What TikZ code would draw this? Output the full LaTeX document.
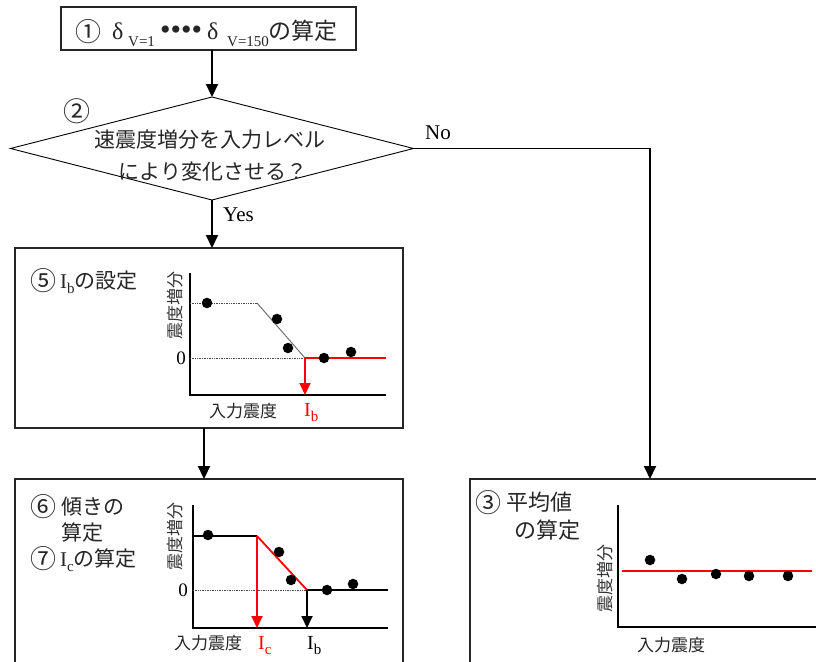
\documentclass[tikz,border=0pt]{standalone}
\usepackage{fontspec}
\setmainfont{Liberation Serif}
\newfontfamily\jp{Noto Sans CJK JP}
\usetikzlibrary{shapes.geometric,arrows.meta}
\newcommand{\fs}[1]{\fontsize{#1}{#1}\selectfont}
\newcommand{\seg}[2]{\makebox[#1pt][l]{#2}}
\newcommand{\circd}[1]{\raisebox{-2pt}{\jp\fs{26}#1}}
\begin{document}
\begin{tikzpicture}[x=1pt,y=-1pt,
  box/.style={draw=black!85,line width=1.3pt,inner sep=0pt,outer sep=0pt},
  flow/.style={line width=2.2pt,-{Triangle[length=13pt,width=12pt]}},
  flowline/.style={line width=1.8pt,-{Triangle[length=13pt,width=12pt]}},
  axis/.style={line width=1.8pt},
  dot/.style={circle,fill=black,inner sep=0pt,minimum size=10.5pt},
  zeroline/.style={densely dotted,line width=0.7pt,black!70},
  redline/.style={red,line width=1.8pt},
  gArrow/.style={line width=1.8pt,-{Triangle[length=12pt,width=11pt]}},
  ylab/.style={rotate=90,font=\jp\fs{17},text=black!80,inner sep=0pt},
  xlab/.style={font=\jp\fs{17},text=black!85,inner sep=0pt},
  lab/.style={font=\jp\fs{21},text=black!85,inner sep=0pt},
  num/.style={font=\fs{19},inner sep=0pt},
  yn/.style={font=\fs{21},inner sep=0pt}
]
\useasboundingbox (0,0) rectangle (816,661);
\clip (0,0) rectangle (816,661);
\fill[white] (0,0) rectangle (816,661);

% ---- box 1
\node[box,minimum width=295pt,minimum height=43pt] (b1) at (208.5,28.5) {};
\node[anchor=base west,inner sep=0pt,text=black!85] (t1) at (75,40) {\seg{37}{\circd{①}}\seg{16}{\fs{24}δ}\seg{32}{\raisebox{-7pt}{\fs{15}V=1}}\seg{47}{\fs{30}••••}\seg{20}{\fs{24}δ}\seg{41}{\raisebox{-7pt}{\fs{15}V=150}}{\jp\fs{23}の算定}};

% ---- decision diamond
\node[diamond,draw,line width=0.9pt,minimum width=403pt,minimum height=103pt,inner sep=0pt,outer sep=0pt,aspect=3.9] (d) at (212,148.5) {};
\node[lab,font=\jp\fs{27}] (n2) at (77,111) {②};
\node[lab,font=\jp\fs{21}] (dt1) at (210,140) {速震度増分を入力レベル};
\node[lab,font=\jp\fs{21}] (dt2) at (213,172) {により変化させる？};

% ---- boxes
\node[box,minimum width=388pt,minimum height=180pt] (b5) at (209,338) {};
\node[box,minimum width=388pt,minimum height=221pt] (b6) at (209,589.5) {};
\node[box,minimum width=380pt,minimum height=221pt] (b3) at (660,589.5) {};
\coordinate (b3n) at (650,479);
\coordinate (a56) at (204,0);

% ---- flow connectors
\draw[flow] (d.north |- b1.south) -- (d.north);
\draw[flow] (d.south) -- (d.south |- b5.north);
\node[yn,anchor=west] (yes) at (223,215) {Yes};
\draw[flowline] (d.east) -| (b3n);
\node[yn,anchor=west] (no) at (425,133) {No};
\draw[flow] (b5.south -| a56) -- (b6.north -| a56);

% ---- box 5 content
\node[anchor=base west,inner sep=0pt,text=black!85] (l5) at (30,288) {\seg{30}{\circd{⑤}}\fs{21}I\raisebox{-5pt}{\fs{15}b}{\jp の設定}};
\draw[axis] (190,273) -- (190,395) -- (386,395);
\draw[zeroline] (190,303) -- (257,303);
\draw[black!60,line width=0.9pt] (257,303) -- (305,358);
\draw[zeroline] (190,358) -- (305,358);
\draw[redline] (305,358) -- (386,358);
\draw[gArrow,red] (305,358) -- (305,395);
\foreach \p in {(207,303),(277,319),(288,348),(324,358),(351,352)} \node[dot] at \p {};
\node[num] (z5) at (181,358) {0};
\node[ylab] (y5) at (175,305) {震度増分};
\node[xlab] (x5) at (243,411) {入力震度};
\node[anchor=base west,inner sep=0pt,text=red] (ib5) at (304,416) {\fs{20}I\raisebox{-5pt}{\fs{15}b}};

% ---- box 6 content
\node[anchor=base west,inner sep=0pt,text=black!85] (l6a) at (30,514) {\seg{31}{\circd{⑥}}{\jp\fs{21}傾きの}};
\node[anchor=west,lab] (l6c) at (61,533) {算定};
\node[anchor=base west,inner sep=0pt,text=black!85] (l7) at (30,566) {\seg{30}{\circd{⑦}}\fs{21}I\raisebox{-5pt}{\fs{15}c}{\jp の算定}};
\draw[axis] (193,505) -- (193,628) -- (388,628);
\draw[line width=1.8pt] (193,536) -- (257,536);
\draw[zeroline] (193,590) -- (307,590);
\draw[line width=1.8pt] (307,590) -- (388,590);
\draw[redline] (257,536) -- (307,590);
\draw[gArrow,red] (257,536) -- (257,628);
\draw[gArrow] (307,590) -- (307,628);
\foreach \p in {(208,535),(279,552),(291,580),(327,590),(353,584)} \node[dot] at \p {};
\node[num] (z6) at (183,590) {0};
\node[ylab] (y6) at (175,536) {震度増分};
\node[xlab] (x6) at (208,643) {入力震度};
\node[anchor=base west,inner sep=0pt,text=red] (ic6) at (258,649) {\fs{20}I\raisebox{-5pt}{\fs{15}c}};
\node[anchor=base west,inner sep=0pt] (ib6) at (307,649) {\fs{20}I\raisebox{-5pt}{\fs{15}b}};

% ---- box 3 content
\node[anchor=base west,inner sep=0pt,text=black!85] (l3a) at (475,510) {\seg{31}{\circd{③}}{\jp\fs{22}平均値}};
\node[anchor=west,lab,font=\jp\fs{22}] (l3c) at (514,530) {の算定};
\draw[axis] (618,505) -- (618,627) -- (830,627);
\draw[redline] (622,571) -- (812,571);
\foreach \p in {(650,560),(682,579),(716,574),(749,576),(788,576)} \node[dot] at \p {};
\node[ylab] (y3) at (605,578) {震度増分};
\node[xlab] (x3) at (671,645) {入力震度};
\end{tikzpicture}
\end{document}
